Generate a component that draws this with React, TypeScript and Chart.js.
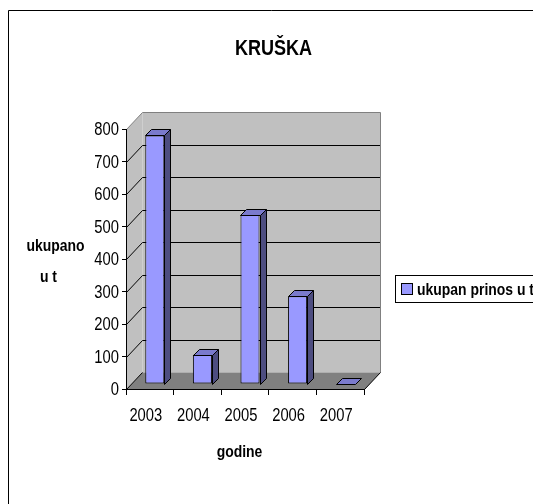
import React, { useEffect, useRef } from "react";
import { Chart, registerables } from "chart.js";

Chart.register(...registerables);

// ---- data ----
const TITLE = "KRUŠKA";
const Y_TITLE_LINES = ["ukupano", "u t"];
const X_TITLE = "godine";
const SERIES_LABEL = "ukupan prinos u t";
const YEARS = ["2003", "2004", "2005", "2006", "2007"];
const YIELD_T = [765, 90, 520, 270, 0];
const Y_MIN = 0;
const Y_MAX = 800;
const Y_STEP = 100;

// ---- style ----
const FONT = "'Liberation Sans', Arial, sans-serif";
const NARROW = 0.82;
const BAR_FRONT = "#9999FF";
const BAR_TOP = "#7A7ACC";
const BAR_SIDE = "#4D4D80";
const WALL = "#C0C0C0";
const FLOOR = "#808080";
const WALL_EDGE = "#808080";
const WALL_DX = 16;
const WALL_DY = -17;
const BAR_DX = 5;
const BAR_DY = -5;
const BAR_DEPTH = 6;

type Pt = [number, number];

function poly(ctx: CanvasRenderingContext2D, pts: Pt[], fill: string | null, stroke: string | null) {
  ctx.beginPath();
  ctx.moveTo(pts[0][0], pts[0][1]);
  for (let i = 1; i < pts.length; i++) ctx.lineTo(pts[i][0], pts[i][1]);
  ctx.closePath();
  if (fill) {
    ctx.fillStyle = fill;
    ctx.fill();
  }
  if (stroke) {
    ctx.strokeStyle = stroke;
    ctx.lineWidth = 1;
    ctx.stroke();
  }
}

function line(ctx: CanvasRenderingContext2D, pts: Pt[], color: string) {
  ctx.beginPath();
  ctx.moveTo(pts[0][0], pts[0][1]);
  for (let i = 1; i < pts.length; i++) ctx.lineTo(pts[i][0], pts[i][1]);
  ctx.strokeStyle = color;
  ctx.lineWidth = 1;
  ctx.stroke();
}

function narrowText(
  ctx: CanvasRenderingContext2D,
  text: string,
  x: number,
  y: number,
  align: CanvasTextAlign,
  font: string
) {
  ctx.save();
  ctx.font = font;
  ctx.fillStyle = "#000";
  ctx.textAlign = align;
  ctx.textBaseline = "alphabetic";
  ctx.translate(x, y);
  ctx.scale(NARROW, 1);
  ctx.fillText(text, 0, 0);
  ctx.restore();
}

const px = (v: number) => Math.round(v) + 0.5;

const scene3d = {
  id: "scene3d",
  beforeDraw(chart: any) {
    const { ctx, chartArea: a, scales } = chart;
    const ys = scales.y;
    ctx.save();
    // outer frame (only left and top edges are inside the view)
    line(ctx, [[8.5, chart.height + 2], [8.5, 10.5], [chart.width + 2, 10.5]], "#000");

    const L = px(a.left), R = px(a.right), T = px(a.top), B = px(a.bottom);
    poly(ctx, [[L, T], [L + WALL_DX, T + WALL_DY], [L + WALL_DX, B + WALL_DY], [L, B]], WALL, null);
    poly(ctx, [[L + WALL_DX, T + WALL_DY], [R + WALL_DX, T + WALL_DY], [R + WALL_DX, B + WALL_DY], [L + WALL_DX, B + WALL_DY]], WALL, null);
    poly(ctx, [[L, B], [L + WALL_DX, B + WALL_DY], [R + WALL_DX, B + WALL_DY], [R, B]], FLOOR, null);

    for (let v = Y_MIN; v <= Y_MAX; v += Y_STEP) {
      const y = px(ys.getPixelForValue(v));
      if (v === Y_MAX) {
        line(ctx, [[L, y], [L + WALL_DX, y + WALL_DY], [R + WALL_DX, y + WALL_DY]], WALL_EDGE);
      } else if (v === Y_MIN) {
        line(ctx, [[L, y], [L + WALL_DX, y + WALL_DY]], "#000");
      } else {
        line(ctx, [[L, y], [L + WALL_DX, y + WALL_DY], [R + WALL_DX, y + WALL_DY]], "#000");
      }
    }
    line(ctx, [[R + WALL_DX, T + WALL_DY], [R + WALL_DX, B + WALL_DY]], WALL_EDGE);
    line(ctx, [[R, B], [R + WALL_DX, B + WALL_DY]], "#000");
    ctx.restore();
  },
  beforeDatasetsDraw(chart: any) {
    chart.ctx.save();
    chart.ctx.translate(BAR_DX, BAR_DY);
  },
  afterDatasetsDraw(chart: any) {
    const ctx = chart.ctx;
    const meta = chart.getDatasetMeta(0);
    const d = BAR_DEPTH;
    meta.data.forEach((el: any) => {
      const { x, y, base, width } = el.getProps(["x", "y", "base", "width"], true);
      const l = Math.round(x - width / 2) + 0.5;
      const r = Math.round(x + width / 2) + 0.5;
      const t = Math.round(y) + 0.5;
      const b = Math.round(base) + 0.5;
      if (b - t > 0.5) poly(ctx, [[r, t], [r + d, t - d], [r + d, b - d], [r, b]], BAR_SIDE, "#000");
      poly(ctx, [[l, t], [l + d, t - d], [r + d, t - d], [r, t]], BAR_TOP, "#000");
    });
    ctx.restore();
  },
  afterDraw(chart: any) {
    const { ctx, chartArea: a, scales } = chart;
    const xs = scales.x;
    const ys = scales.y;
    const tickFont = `18px ${FONT}`;
    // y tick labels
    ys.ticks.forEach((t: any) => {
      const y = ys.getPixelForValue(t.value);
      narrowText(ctx, String(t.value), a.left - 7, y + 6.4, "right", tickFont);
    });
    // x tick labels
    xs.ticks.forEach((t: any, i: number) => {
      const x = xs.getPixelForTick(i);
      narrowText(ctx, String(xs.getLabelForValue(t.value)), x - 4, 420.5, "center", tickFont);
    });

    const bold = `bold 17px ${FONT}`;
    narrowText(ctx, TITLE, 273.5, 55, "center", `bold 22px ${FONT}`);
    narrowText(ctx, Y_TITLE_LINES[0], 55.5, 251, "center", bold);
    narrowText(ctx, Y_TITLE_LINES[1], 48.5, 282, "center", bold);
    narrowText(ctx, X_TITLE, 239.5, 457, "center", bold);

    // legend
    const ds = chart.data.datasets[0];
    ctx.save();
    ctx.font = bold;
    const tw = ctx.measureText(ds.label).width * NARROW;
    const bx = 395.5, by = 275.5, bh = 27;
    ctx.fillStyle = "#fff";
    ctx.fillRect(bx, by, tw + 30, bh);
    ctx.strokeStyle = "#000";
    ctx.lineWidth = 1;
    ctx.strokeRect(bx, by, tw + 30, bh);
    ctx.fillStyle = ds.backgroundColor;
    ctx.fillRect(401.5, 283.5, 11, 11);
    ctx.strokeRect(401.5, 283.5, 11, 11);
    ctx.restore();
    narrowText(ctx, ds.label, 417, 295, "left", bold);
  },
};

export default function App() {
  const ref = useRef<HTMLCanvasElement | null>(null);
  useEffect(() => {
    if (!ref.current) return;
    const chart = new Chart(ref.current, {
      type: "bar",
      data: {
        labels: YEARS,
        datasets: [
          {
            label: SERIES_LABEL,
            data: YIELD_T,
            backgroundColor: BAR_FRONT,
            borderColor: "#000",
            borderWidth: 1,
            borderSkipped: false,
            categoryPercentage: 1,
            barPercentage: 0.4,
            clip: false as any,
          },
        ],
      },
      options: {
        responsive: false,
        animation: false,
        devicePixelRatio: 1,
        events: [],
        layout: { padding: { left: 86, top: 129, right: 169, bottom: 75 } },
        plugins: {
          legend: { display: false },
          title: { display: false },
          tooltip: { enabled: false },
        },
        scales: {
          x: {
            offset: true,
            grid: { display: true, drawOnChartArea: false, drawTicks: true, tickLength: 6, color: "#000", offset: true },
            border: { display: true, color: "#000", width: 1 },
            ticks: { display: false, autoSkip: false },
            afterFit: (s: any) => {
              s.height = 40;
              s.paddingLeft = 0;
              s.paddingRight = 0;
            },
          },
          y: {
            min: Y_MIN,
            max: Y_MAX,
            ticks: { stepSize: Y_STEP, display: false },
            grid: { drawOnChartArea: false, drawTicks: true, tickLength: 4, color: "#000" },
            border: { display: true, color: "#000", width: 1 },
            afterFit: (s: any) => {
              s.width = 40;
              s.paddingTop = 0;
              s.paddingBottom = 0;
            },
          },
        },
      },
      plugins: [scene3d],
    });
    return () => chart.destroy();
  }, []);
  return (
    <div style={{ position: "absolute", left: 0, top: 0, width: 533, height: 504, background: "#fff" }}>
      <canvas ref={ref} width={533} height={504} style={{ display: "block" }} />
    </div>
  );
}
